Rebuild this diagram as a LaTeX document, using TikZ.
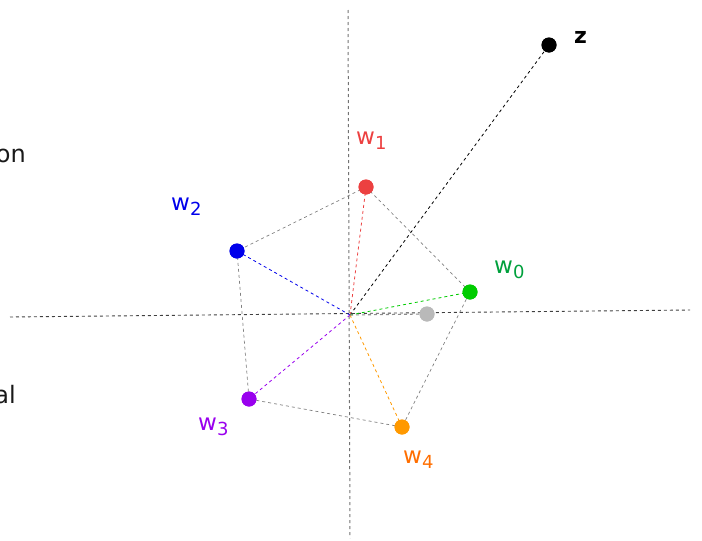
\documentclass[tikz,border=0pt]{standalone}
\usepackage{fontspec}
\setmainfont{DejaVu Sans}
\definecolor{cred}{RGB}{236,64,64}
\definecolor{cblue}{RGB}{0,0,235}
\definecolor{cgreen}{RGB}{0,204,0}
\definecolor{cgreenlab}{RGB}{0,160,60}
\definecolor{cpurple}{RGB}{153,0,238}
\definecolor{corange}{RGB}{255,153,0}
\definecolor{corangelab}{RGB}{255,110,0}
\definecolor{cgray}{RGB}{185,185,185}
\newcommand{\wlab}[1]{w\raisebox{-5pt}{\fontsize{18}{18}\selectfont #1}}
\begin{document}
\begin{tikzpicture}[x=1pt,y=-1pt,
  dotp/.style={circle,inner sep=0pt,minimum size=15pt},
  lab/.style={inner sep=0pt,anchor=base west,font=\fontsize{23}{23}\selectfont},
  haxis/.style={dashed,dash pattern=on 3pt off 3pt,line width=0.9pt,draw=black!75},
  vaxis/.style={dashed,dash pattern=on 3pt off 3pt,line width=1pt,draw=black!55},
  spoke/.style={dashed,dash pattern=on 3pt off 3pt,line width=0.8pt},
  edge/.style={dashed,dash pattern=on 3pt off 3pt,line width=0.7pt,draw=black!50}]
\useasboundingbox (0,0) rectangle (702,541);
% axes
\coordinate (hl) at (10,317);
\coordinate (hr) at (690,310);
\coordinate (vt) at (348,10);
\coordinate (vb) at (350,538);
\coordinate (o) at (350,315);
\draw[haxis] (hl) -- (hr);
\draw[vaxis] (vt) -- (vb);
% points
\node[dotp,fill=black] (z) at (549,45) {};
\node[dotp,fill=cred] (w1) at (366,187) {};
\node[dotp,fill=cblue] (w2) at (237,251) {};
\node[dotp,fill=cgreen] (w0) at (470,292) {};
\node[dotp,fill=cgray] (g) at (427,314) {};
\node[dotp,fill=cpurple] (w3) at (249,399) {};
\node[dotp,fill=corange] (w4) at (402,427) {};
% pentagon
\draw[edge] (w1.center) -- (w2.center) -- (w3.center) -- (w4.center) -- (w0.center) -- cycle;
% spokes
\draw[spoke,draw=black] (o) -- (z.center);
\draw[spoke,draw=cred] (o) -- (w1.center);
\draw[spoke,draw=cblue] (o) -- (w2.center);
\draw[spoke,draw=cgreen] (o) -- (w0.center);
\draw[spoke,draw=cpurple] (o) -- (w3.center);
\draw[spoke,draw=corange] (o) -- (w4.center);
\draw[spoke,draw=black!45,line width=1.1pt] (o) -- (g.center);
% redraw dots on top
\foreach \n/\c in {z/black,w1/cred,w2/cblue,w0/cgreen,g/cgray,w3/cpurple,w4/corange}
  \fill[\c] (\n) circle (7.5pt);
% labels
\node[lab,font=\bfseries\fontsize{22}{22}\selectfont] (zl) at (574,43) {z};
\node[lab,text=cred] (l1) at (356,144) {\wlab{1}};
\node[lab,text=cblue] (l2) at (171,210) {\wlab{2}};
\node[lab,text=cgreenlab] (l0) at (494,273) {\wlab{0}};
\node[lab,text=cpurple] (l3) at (198,430) {\wlab{3}};
\node[lab,text=corangelab] (l4) at (403,463) {\wlab{4}};
% side texts, cut at the left edge as in the reference
\node[inner sep=0pt,anchor=base east,font=\fontsize{24}{24}\selectfont,text=black!90] (t1) at (26,162) {on};
\node[inner sep=0pt,anchor=base east,font=\fontsize{24}{24}\selectfont,text=black!90] (t2) at (16,403) {al};
\end{tikzpicture}
\end{document}
